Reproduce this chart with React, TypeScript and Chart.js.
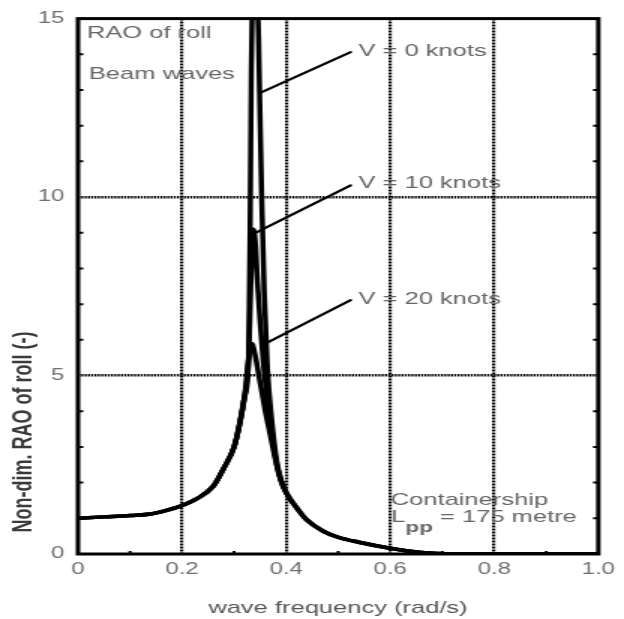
import React, { useEffect, useRef } from 'react';
import { Chart, registerables } from 'chart.js';

Chart.register(...registerables);

// ---- values ----
// rising flank shared by all three speeds
const freqRise = [0, 0.05, 0.1, 0.14, 0.17, 0.2, 0.23, 0.26, 0.28, 0.3, 0.31, 0.32];
const raoRise = [1.0, 1.04, 1.08, 1.12, 1.22, 1.36, 1.56, 1.9, 2.4, 3.0, 3.6, 4.4];

// resonance peaks
const freqPeakV0 = [0.328, 0.331, 0.333, 0.336, 0.34, 0.344, 0.347, 0.349, 0.353, 0.358, 0.364, 0.372, 0.382, 0.39];
const raoPeakV0 = [5.5, 9.5, 13.5, 16.5, 17.0, 16.0, 14.5, 12.9, 10.0, 7.3, 5.2, 3.8, 2.6, 2.1];

const freqPeakV10 = [0.328, 0.332, 0.337, 0.341, 0.345, 0.35, 0.356, 0.364, 0.372, 0.382, 0.39];
const raoPeakV10 = [5.5, 7.5, 9.1, 8.7, 7.6, 6.5, 5.4, 4.3, 3.4, 2.5, 2.05];

const freqPeakV20 = [0.328, 0.334, 0.34, 0.35, 0.36, 0.37, 0.38, 0.39];
const raoPeakV20 = [5.5, 5.9, 5.6, 4.8, 4.0, 3.3, 2.6, 2.05];

// decaying tail shared by all three speeds
const freqTail = [0.4, 0.42, 0.44, 0.47, 0.5, 0.54, 0.6, 0.66, 0.72, 1.0];
const raoTail = [1.72, 1.3, 0.95, 0.65, 0.47, 0.33, 0.16, 0.04, 0.0, 0.0];

const speedLabels = ['V = 0 knots', 'V = 10 knots', 'V = 20 knots'];
const xMinorTicks = [0.1, 0.3, 0.5, 0.7, 0.9];
const yMinorTicks = [1, 2, 3, 4, 6, 7, 8, 9, 11, 12, 13, 14];

const xTitle = 'wave frequency (rad/s)';
const yTitle = 'Non-dim. RAO of roll (-)';

// ---- page / drawing geometry ----
const W = 624;
const H = 619;
const SX = 1.5; // the reference is stretched horizontally
const IW = W / SX;
const FONT = "'Liberation Sans', Arial, sans-serif";

function buildSeries(fp: number[], rp: number[]) {
  const f = [...freqRise, ...fp, ...freqTail];
  const r = [...raoRise, ...rp, ...raoTail];
  return f.map((x, i) => ({ x, y: r[i] }));
}

const decor = {
  id: 'decor',
  afterDraw(chart: any) {
    const { ctx, chartArea: a, scales } = chart;
    const X = (v: number) => scales.x.getPixelForValue(v);
    const Y = (v: number) => scales.y.getPixelForValue(v);
    ctx.save();

    // inward minor ticks
    ctx.strokeStyle = '#000';
    ctx.lineWidth = 2;
    ctx.beginPath();
    for (const v of yMinorTicks) {
      const y = Y(v);
      ctx.moveTo(a.left, y);
      ctx.lineTo(a.left + 3.5, y);
      ctx.moveTo(a.right, y);
      ctx.lineTo(a.right - 3.5, y);
    }
    for (const v of xMinorTicks) {
      const x = X(v);
      ctx.moveTo(x, a.bottom);
      ctx.lineTo(x, a.bottom - 3);
    }
    ctx.stroke();

    // plot frame
    ctx.lineWidth = 3;
    ctx.strokeRect(a.left, a.top, a.right - a.left, a.bottom - a.top);

    // leader lines
    const leaders = [
      [0.35, 12.92, 0.524, 14.06],
      [0.341, 9.0, 0.524, 10.33],
      [0.359, 5.89, 0.524, 7.11],
    ];
    ctx.lineWidth = 2.2;
    ctx.lineCap = 'round';
    ctx.beginPath();
    for (const l of leaders) {
      ctx.moveTo(X(l[0]), Y(l[1]));
      ctx.lineTo(X(l[2]), Y(l[3]));
    }
    ctx.stroke();

    // annotation text
    ctx.fillStyle = '#666';
    ctx.font = `17px ${FONT}`;
    ctx.textAlign = 'left';
    ctx.textBaseline = 'alphabetic';
    ctx.fillText('RAO of roll', X(0.017), Y(14.46));
    ctx.fillText('Beam waves', X(0.021), Y(13.3));
    const labelY = [13.94, 10.25, 7.0];
    speedLabels.forEach((t, i) => ctx.fillText(t, X(0.539), Y(labelY[i])));
    ctx.fillText('Containership', X(0.601), Y(1.36));
    let lx = X(0.602);
    const ly = Y(0.89);
    ctx.fillText('L', lx, ly);
    lx += ctx.measureText('L').width;
    ctx.font = `bold 15px ${FONT}`;
    ctx.fillText('pp', lx, ly + 10);
    lx += ctx.measureText('pp').width;
    ctx.font = `17px ${FONT}`;
    ctx.fillText(' = 175 metre', lx, ly);

    // axis titles
    ctx.fillStyle = '#555';
    ctx.font = `17px ${FONT}`;
    ctx.textAlign = 'center';
    ctx.fillText(xTitle, 338 / SX, 613);

    ctx.fillStyle = '#3a3a3a';
    ctx.font = `bold 18px ${FONT}`;
    ctx.translate(32 / SX, 432);
    ctx.rotate(-Math.PI / 2);
    ctx.fillText(yTitle, 0, 0);

    ctx.restore();
  },
};

export default function App() {
  const ref = useRef<HTMLCanvasElement>(null);

  useEffect(() => {
    const canvas = ref.current;
    if (!canvas) return;
    const lineStyle = {
      borderColor: '#000',
      borderWidth: 3.5,
      pointRadius: 0,
      fill: false,
      cubicInterpolationMode: 'monotone',
    };
    const chart = new Chart(canvas, {
      type: 'line',
      data: {
        datasets: [
          { label: speedLabels[0], data: buildSeries(freqPeakV0, raoPeakV0), ...lineStyle },
          { label: speedLabels[1], data: buildSeries(freqPeakV10, raoPeakV10), ...lineStyle },
          { label: speedLabels[2], data: buildSeries(freqPeakV20, raoPeakV20), ...lineStyle },
        ],
      },
      options: {
        responsive: false,
        animation: false,
        devicePixelRatio: 1,
        events: [],
        layout: { padding: { left: 0, top: 14, right: IW - 607 / SX, bottom: 0 } },
        plugins: {
          legend: { display: false },
          tooltip: { enabled: false },
          title: { display: false },
        },
        scales: {
          x: {
            type: 'linear',
            min: 0,
            max: 1,
            afterFit: (s: any) => {
              s.height = H - 554;
            },
            ticks: {
              stepSize: 0.2,
              autoSkip: false,
              maxRotation: 0,
              padding: 6,
              color: '#6f6f6f',
              font: { family: FONT, size: 16 },
              callback: (v: any) => (Number(v) === 0 ? '0' : Number(v).toFixed(1)),
            },
            grid: {
              drawTicks: false,
              lineWidth: 2.2,
              color: (c: any) =>
                c.tick && (Math.abs(c.tick.value) < 1e-6 || Math.abs(c.tick.value - 1) < 1e-6)
                  ? 'rgba(0,0,0,0)'
                  : '#000',
            },
            border: { display: false, dash: [2, 1] },
          },
          y: {
            type: 'linear',
            min: 0,
            max: 15,
            afterFit: (s: any) => {
              s.width = 78 / SX;
            },
            ticks: {
              stepSize: 5,
              padding: 9,
              color: '#6f6f6f',
              font: { family: FONT, size: 16 },
            },
            grid: {
              drawTicks: false,
              lineWidth: 2.5,
              color: (c: any) =>
                c.tick && (Math.abs(c.tick.value) < 1e-6 || Math.abs(c.tick.value - 15) < 1e-6)
                  ? 'rgba(0,0,0,0)'
                  : '#000',
            },
            border: { display: false, dash: [1.4, 0.8] },
          },
        },
      },
      plugins: [decor],
    } as any);
    return () => chart.destroy();
  }, []);

  return (
    <div style={{ position: 'fixed', left: 0, top: 0, width: W, height: H, background: '#fff' }}>
      <canvas
        ref={ref}
        width={IW}
        height={H}
        style={{ width: `${W}px`, height: `${H}px`, display: 'block' }}
      />
    </div>
  );
}
